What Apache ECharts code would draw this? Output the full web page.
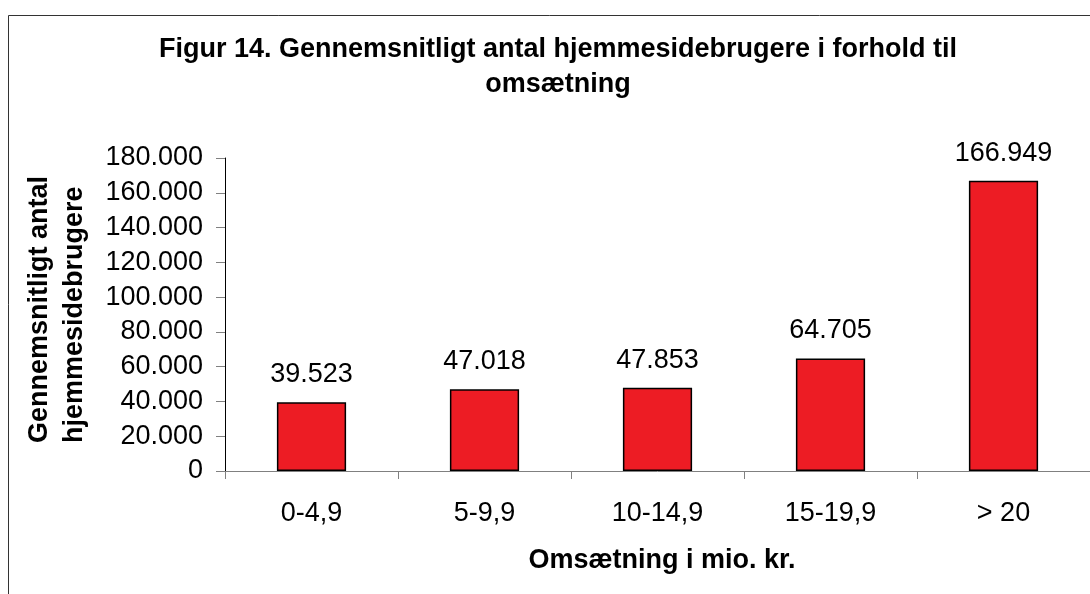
<!DOCTYPE html>
<html>
<head>
<meta charset="utf-8">
<script src="https://cdn.jsdelivr.net/npm/echarts@6/dist/echarts.min.js"></script>
<style>
  html, body { margin: 0; padding: 0; background: #fff; }
  #chart { width: 1090px; height: 594px; }
</style>
</head>
<body>
<div id="chart"></div>
<script>
const kategorier = ['0-4,9', '5-9,9', '10-14,9', '15-19,9', '> 20'];
const brugere = [39523, 47018, 47853, 64705, 166949];
const yMin = 0;
const yMax = 180000;
const yStep = 20000;

// tal med punktum som tusindtalsseparator
function fmt(v) {
  return String(v).replace(/\B(?=(\d{3})+(?!\d))/g, '.');
}

const chart = echarts.init(document.getElementById('chart'));
const font = 'Liberation Sans, Arial, sans-serif';

chart.setOption({
  animation: false,
  title: [
    {
      text: 'Figur 14. Gennemsnitligt antal hjemmesidebrugere i forhold til\nomsætning',
      left: 553,
      top: 27,
      textAlign: 'center',
      textStyle: { fontFamily: font, fontWeight: 'bold', fontSize: 27, lineHeight: 35, color: '#000' }
    },
    {
      text: 'Omsætning i mio. kr.',
      left: 657,
      top: 542,
      textAlign: 'center',
      textStyle: { fontFamily: font, fontWeight: 'bold', fontSize: 27, color: '#000' }
    }
  ],
  graphic: [
    {
      type: 'polyline',
      shape: { points: [[8.5, 594], [8.5, 15.5], [1090, 15.5]] },
      style: { stroke: '#333', lineWidth: 1, fill: null }
    },
    {
      type: 'text',
      x: 57,
      y: 443,
      rotation: Math.PI / 2,
      style: {
        text: 'Gennemsnitligt antal\nhjemmesidebrugere',
        font: 'bold 27px ' + font,
        fill: '#000',
        align: 'left',
        verticalAlign: 'middle',
        lineHeight: 35
      }
    }
  ],
  grid: { left: 225, top: 158, right: 0, bottom: 123, containLabel: false },
  xAxis: {
    type: 'category',
    data: kategorier,
    axisLine: { lineStyle: { color: '#808080', width: 1 } },
    axisTick: { show: true, length: 8, alignWithLabel: false, lineStyle: { color: '#808080' } },
    axisLabel: { fontFamily: font, fontSize: 27, color: '#000', margin: 29 }
  },
  yAxis: {
    type: 'value',
    min: yMin,
    max: yMax,
    interval: yStep,
    splitLine: { show: false },
    axisLine: { show: true, lineStyle: { color: '#000', width: 1 } },
    axisTick: { show: true, length: 9, inside: false, lineStyle: { color: '#808080' } },
    axisLabel: { fontFamily: font, fontSize: 27, color: '#000', margin: 22, formatter: v => fmt(v) }
  },
  series: [
    {
      type: 'bar',
      data: brugere,
      barWidth: '40%',
      itemStyle: { color: '#ed1c24', borderColor: '#000', borderWidth: 1.5 },
      label: {
        show: true,
        position: 'top',
        distance: 14,
        fontFamily: font,
        fontSize: 27,
        color: '#000',
        formatter: p => fmt(p.value)
      }
    }
  ]
});
</script>
</body>
</html>
